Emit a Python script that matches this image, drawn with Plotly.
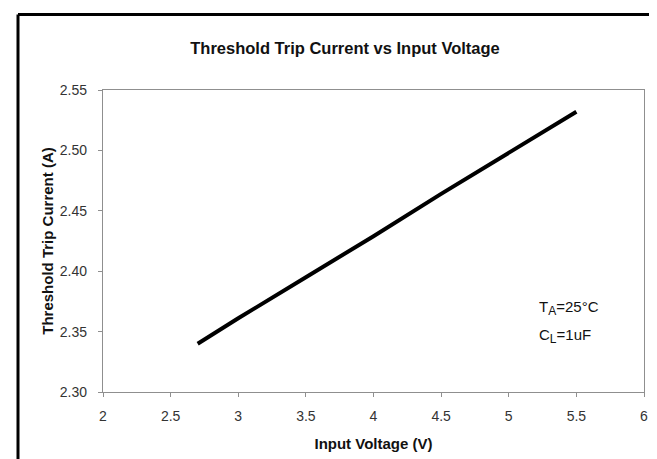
import plotly.graph_objects as go

# Data
input_voltage = [2.7, 3.0, 3.5, 4.0, 4.5, 5.0, 5.5]
trip_current = [2.340, 2.361, 2.395, 2.429, 2.464, 2.498, 2.532]

x_ticks = [2, 2.5, 3, 3.5, 4, 4.5, 5, 5.5, 6]
x_tick_labels = ["2", "2.5", "3", "3.5", "4", "4.5", "5", "5.5", "6"]
y_ticks = [2.30, 2.35, 2.40, 2.45, 2.50, 2.55]
y_tick_labels = ["2.30", "2.35", "2.40", "2.45", "2.50", "2.55"]

title_text = "Threshold Trip Current vs Input Voltage"
x_title = "Input Voltage (V)"
y_title = "Threshold Trip Current (A)"
note_main = ["T", "C"]
note_sub = ["A", "L"]
note_rest = ["=25°C", "=1uF"]

W, H = 657, 459
L, R, T, B = 95, 21, 82, 75
pw, ph = W - L - R, H - T - B

font = "Liberation Sans, Arial, sans-serif"

fig = go.Figure()
fig.add_trace(go.Scatter(
    x=input_voltage, y=trip_current, mode="lines",
    line=dict(color="black", width=4), showlegend=False, hoverinfo="skip",
))

axis_common = dict(
    showgrid=False, zeroline=False, showline=True, linecolor="#8f8f8f",
    linewidth=1.3, mirror=True, ticks="outside", ticklen=4, tickwidth=1,
    tickcolor="#8f8f8f", tickfont=dict(family=font, size=14, color="#333"),
    automargin=False,
)

fig.update_layout(
    width=W, height=H,
    margin=dict(l=L, r=R, t=T, b=B, pad=0),
    paper_bgcolor="white", plot_bgcolor="white",
    title=dict(text="<b>" + title_text + "</b>", xref="container", x=337 / W,
               xanchor="center", yref="container", y=1 - 40 / H, yanchor="middle",
               font=dict(family=font, size=16.5, color="#111")),
    xaxis=dict(range=[2, 6], tickvals=x_ticks, ticktext=x_tick_labels,
               ticklabelstandoff=7,
               title=dict(text="<b>" + x_title + "</b>", standoff=15,
                          font=dict(family=font, size=15, color="#111")),
               **axis_common),
    yaxis=dict(range=[2.30, 2.55], tickvals=y_ticks, ticktext=y_tick_labels,
               ticklabelstandoff=8,
               title=dict(text="<b>" + y_title + "</b>", standoff=2,
                          font=dict(family=font, size=15, color="#111")),
               **axis_common),
    showlegend=False,
)

# condition notes
note_y = [2.3697, 2.346]
for m, s, r, yv in zip(note_main, note_sub, note_rest, note_y):
    txt = m + "<sub><span style='font-size:12px'>" + s + "</span></sub>" + r
    fig.add_annotation(text=txt, x=5.21, y=yv, xref="x", yref="y", showarrow=False,
                       xanchor="left", yanchor="middle",
                       font=dict(family=font, size=15, color="#111"))

# outer chart frame (left and top edges visible)
fx = (10 - L) / pw
fy = (T + ph - 6.5) / ph
fig.add_shape(type="line", xref="paper", yref="paper", x0=fx, x1=fx, y0=fy, y1=-1,
              line=dict(color="black", width=3))
fig.add_shape(type="line", xref="paper", yref="paper", x0=fx, x1=2, y0=fy, y1=fy,
              line=dict(color="black", width=3))

fig.write_html("out.html")
